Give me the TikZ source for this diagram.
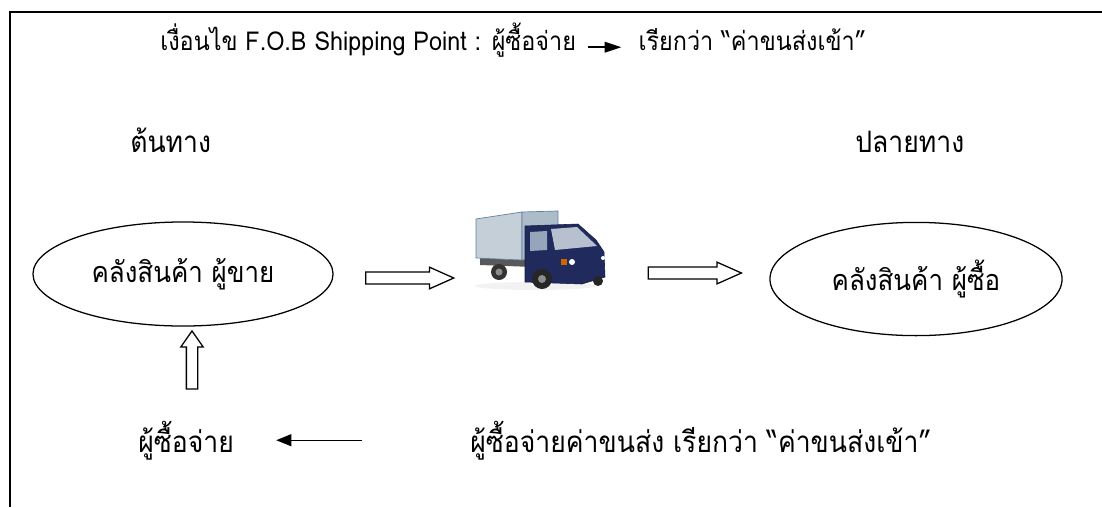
\documentclass[tikz,border=0pt]{standalone}
\usepackage{fontspec}
\setmainfont[Script=Thai,FakeStretch=0.9]{Loma}
\usetikzlibrary{shapes.geometric,shapes.arrows,arrows.meta,positioning}

\definecolor{boxside}{RGB}{196,207,216}
\definecolor{boxfront}{RGB}{172,188,201}
\definecolor{boxedge}{RGB}{96,128,162}
\definecolor{cabblue}{RGB}{32,42,92}
\definecolor{glass}{RGB}{150,165,185}

\tikzset{
  txt/.style={inner sep=0pt,font=\fontsize{21}{25}\selectfont},
  headtxt/.style={inner sep=0pt,font=\fontsize{18.5}{22}\selectfont},
  store/.style={ellipse,draw,line width=0.9pt,inner sep=0pt,font=\fontsize{20.5}{25}\selectfont},
  fatarrow/.style={single arrow,draw,line width=0.9pt,inner sep=0pt,inner ysep=0.135cm,
    single arrow head extend=0.12cm,single arrow tip angle=48},
  payarrow/.style={-{Triangle[length=0.38cm,width=0.3cm]},line width=0.9pt},
  headarrow/.style={-{Triangle[length=0.42cm,width=0.26cm]},line width=1.6pt},
}

\begin{document}
\begin{tikzpicture}[x=0.025cm,y=-0.025cm]
\useasboundingbox (0,0) rectangle (1102,507);

% frame, top and left edges
\draw[line width=1pt] (10,507) -- (10,12) -- (1102,12);

% heading
\node[headtxt,anchor=base west] (cond) at (160,50) {เงื่อนไข F.O.B Shipping Point : ผู้ซื้อจ่าย};
\node[headtxt,base right=1.55cm of cond] (callin) {เรียกว่า “ค่าขนส่งเข้า”};
\draw[headarrow,shorten <=8pt,shorten >=12pt] ([yshift=2pt]cond.base east) -- ([yshift=2pt]callin.base west);

\node[txt,anchor=base west] (origin) at (130,152) {ต้นทาง};
\node[txt,anchor=base west] (dest) at (855,152) {ปลายทาง};

% warehouses
\node[store,minimum width=7.5cm,minimum height=2.6cm] (seller) at (183,274) {คลังสินค้า ผู้ขาย};
\node[store,minimum width=7.3cm,minimum height=2.83cm] (buyer) at (916,279) {คลังสินค้า ผู้ซื้อ};

% block arrows
\node[fatarrow,minimum height=2.2cm] (toTruck) at (403,278) {};
\node[fatarrow,minimum height=2.33cm] (toBuyer) at (688,273) {};
\node[fatarrow,rotate=90,minimum height=1.45cm,inner ysep=0.125cm,
  single arrow head extend=0.14cm,single arrow tip angle=70] (payUp) at (192,364) {};

% truck
\coordinate (truck) at (540,250);
\fill[black!5] (535,286) ellipse (60 and 4);
\fill[gray!70!black] (480,258) -- (560,262) -- (560,268) -- (480,265) -- cycle;
\filldraw[fill=boxside,draw=boxedge,line width=0.5pt]
  (476,219) -- (522,212) -- (522,260) -- (476,258) -- cycle;
\filldraw[fill=boxfront,draw=boxedge,line width=0.5pt]
  (522,212) -- (558,211) -- (558,256) -- (522,260) -- cycle;
\fill[black!80] (499,272) circle (8);
\fill[black!45] (499,272) circle (3.5);
\filldraw[fill=cabblue,draw=cabblue!70!black,line width=0.4pt]
  (525,226) -- (578,224) -- (596,240) -- (604,252) -- (605,277) -- (582,284) -- (525,282) -- cycle;
\fill[glass] (530,232) -- (547,231) -- (547,250) -- (530,251) -- cycle;
\fill[glass!70!white] (551,229) -- (577,227) -- (597,246) -- (555,250) -- cycle;
\fill[orange!80!black] (561,259) rectangle (567,265);
\fill[white] (572,262) circle (3);
\fill[white] (603,258) circle (2);
\fill[black!85] (542,279) circle (10);
\fill[black!45] (542,279) circle (4);
\fill[black!85] (598,281) circle (5);

% who pays
\node[txt,anchor=base west] (payer) at (138,452) {ผู้ซื้อจ่าย};
\node[txt,anchor=base west] (note) at (470,452) {ผู้ซื้อจ่ายค่าขนส่ง เรียกว่า “ค่าขนส่งเข้า”};
\draw[payarrow,shorten <=2.7cm,shorten >=1.05cm] (note.west) -- (payer.east);
\end{tikzpicture}
\end{document}
